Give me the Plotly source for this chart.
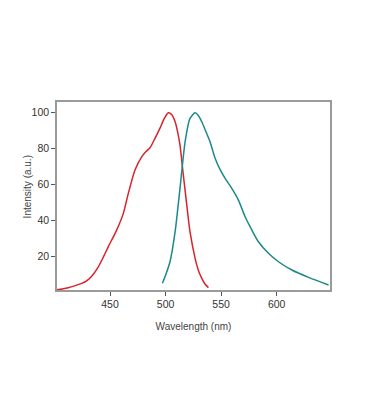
import plotly.graph_objects as go

# Excitation spectrum (red)
ex_wavelength = [402, 407, 412.4, 418, 424.5, 429, 433.5, 439.5, 444, 448.5, 456, 462, 466.5, 472.5, 478.5, 482,
                 486, 490.5, 495, 499, 502.5, 505.5, 508.6, 511, 513, 516, 519.1, 522, 526.6, 529.5, 532.6, 535.5, 538.6]
ex_intensity = [1.6, 2.1, 2.8, 3.8, 5.2, 6.6, 9.2, 14.4, 19.8, 25.6, 34.8, 44.1, 55.2, 68.2, 75.5, 78.2,
                80.6, 85.8, 91.5, 97, 100, 99, 95, 89, 82, 65.4, 48.7, 33.9, 19.1, 12.5, 8.0, 4.8, 2.8]

# Emission spectrum (teal)
em_wavelength = [497.2, 500.5, 504, 508.6, 513, 517.6, 522, 526.6, 529.5, 532.6, 536, 540, 544.6, 549, 553.6,
                 559.6, 565.6, 571.6, 577.7, 583.6, 592.6, 601.6, 613.7, 628.7, 646.7]
em_intensity = [5.2, 10.5, 17.2, 33.9, 58, 83.9, 96.9, 100, 98.5, 95, 90, 83.9, 74.7, 68.5, 63.6,
                58, 51.5, 42.2, 34.8, 28.3, 21.9, 17.2, 12.6, 8.5, 4.3]

x_ticks = [450, 500, 550, 600]
y_ticks = [20, 40, 60, 80, 100]

fig = go.Figure()
fig.add_trace(go.Scatter(x=ex_wavelength, y=ex_intensity, mode="lines",
                         line=dict(color="#d8232a", width=1.5, shape="spline", smoothing=0.7),
                         showlegend=False))
fig.add_trace(go.Scatter(x=em_wavelength, y=em_intensity, mode="lines",
                         line=dict(color="#1b8a86", width=1.5, shape="spline", smoothing=0.7),
                         showlegend=False))

font_family = "Liberation Sans Narrow, Arial Narrow, Arial, sans-serif"
axis_common = dict(showgrid=False, zeroline=False, showline=True, linecolor="#9a9a9a",
                   linewidth=1.5, mirror=True, ticks="outside", ticklen=4,
                   tickcolor="#555", tickwidth=1, automargin=False,
                   tickfont=dict(family=font_family, size=10.5, color="#333"))

fig.update_layout(
    width=367, height=419,
    paper_bgcolor="white", plot_bgcolor="white",
    margin=dict(l=49, r=45, t=94, b=137),
    xaxis=dict(range=[402.3, 648], tickvals=x_ticks,
               title=dict(text="Wavelength (nm)", standoff=14,
                          font=dict(family=font_family, size=10, color="#444")),
               **axis_common),
    yaxis=dict(range=[1.5, 106], tickvals=y_ticks, **axis_common),
    annotations=[dict(text="Intensity (a.u.)", xref="paper", yref="paper",
                      x=-0.107, y=0.55, xanchor="center", yanchor="middle",
                      textangle=-90, showarrow=False,
                      font=dict(family=font_family, size=10, color="#444"))],
)

fig.write_html("out.html")
